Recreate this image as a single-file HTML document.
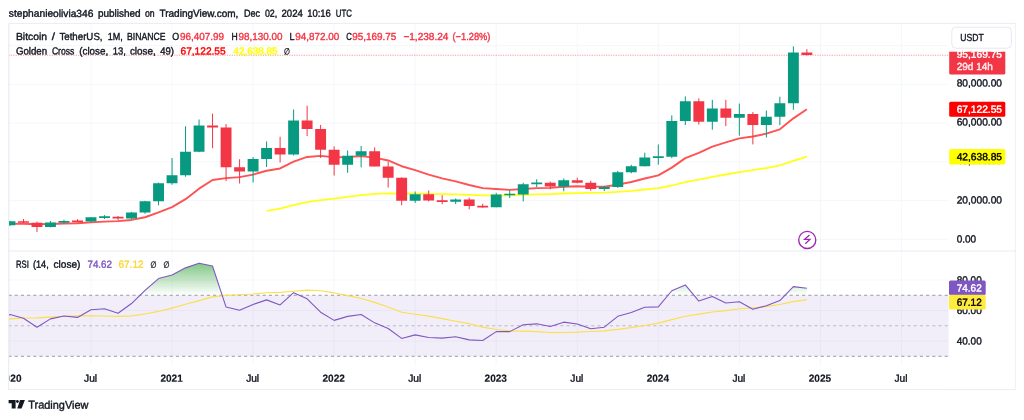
<!DOCTYPE html>
<html lang="en"><head><meta charset="utf-8"><title>BTCUSDT chart</title><style>html,body{margin:0;padding:0;background:#fff}body{width:1024px;height:420px;overflow:hidden}svg{display:block}</style></head><body>
<svg width="1024" height="420" viewBox="0 0 1024 420" font-family="'Liberation Sans', sans-serif" font-size="10.3" color="#131722">
<style>text{fill:currentColor;stroke:currentColor;stroke-width:.4px;stroke-linejoin:round}text[font-weight=bold]{stroke-width:.15px}</style>
<defs><clipPath id="cm"><rect x="9.1" y="23.5" width="939.6999999999999" height="227.57"/></clipPath>
<clipPath id="cr"><rect x="9.1" y="251.07" width="939.6999999999999" height="114.23000000000002"/></clipPath>
<clipPath id="ct"><rect x="9.6" y="365.3" width="940.3" height="24.19999999999999"/></clipPath>
<linearGradient id="gg" gradientUnits="userSpaceOnUse" x1="0" y1="249.47" x2="0" y2="295.25"><stop offset="0" stop-color="#4caf50" stop-opacity="1"/><stop offset="1" stop-color="#4caf50" stop-opacity="0"/></linearGradient>
</defs>
<rect width="1024" height="420" fill="#fff"/>
<text transform="translate(8.8 16.8) rotate(.1) scale(0.9928 1)" >stephanieolivia346</text>
<text transform="translate(97.9 16.8) rotate(.1) scale(0.9684 1)" >published</text>
<text transform="translate(145 16.8) rotate(.1) scale(0.8458 1)" >on</text>
<text transform="translate(159.5 16.8) rotate(.1) scale(0.9719 1)" >TradingView.com,</text>
<text transform="translate(243.9 16.8) rotate(.1) scale(0.8792 1)" >Dec</text>
<text transform="translate(264.9 16.8) rotate(.1) scale(0.8585 1)" >02,</text>
<text transform="translate(281.5 16.8) rotate(.1) scale(0.9380 1)" >2024</text>
<text transform="translate(307.2 16.8) rotate(.1) scale(0.9193 1)" >10:16</text>
<text transform="translate(335.8 16.8) rotate(.1) scale(0.7604 1)" >UTC</text>
<path d="M9.96 23.5V365.3M91 23.5V365.3M172.04 23.5V365.3M253.09 23.5V365.3M334.13 23.5V365.3M415.17 23.5V365.3M496.21 23.5V365.3M577.25 23.5V365.3M658.3 23.5V365.3M739.34 23.5V365.3M820.38 23.5V365.3M901.42 23.5V365.3M8.5 239.3H948.8M8.5 200.56H948.8M8.5 161.82H948.8M8.5 123.08H948.8M8.5 84.34H948.8M8.5 45.6H948.8M8.5 341.03H948.8M8.5 310.51H948.8M8.5 279.99H948.8" stroke="#f0f3fa" stroke-width="1" stroke-opacity="0.7" fill="none"/>
<g clip-path="url(#cm)">
<path d="M266.59 210.98L280.1 208.72L293.61 205.19L307.11 202.15L320.62 200.05L334.13 198.64L347.63 196.92L361.14 195.09L374.65 193.94L388.16 193.29L401.66 193.59L415.17 193.61L428.68 193.89L442.18 194.2L455.69 194.42L469.2 194.88L482.7 195.38L496.21 195.34L509.72 195.31L523.23 194.86L536.73 194.37L550.24 194.06L563.75 193.51L577.25 193.08L590.76 192.92L604.27 192.68L617.77 191.86L631.28 190.84L644.79 189.5L658.3 188.19L671.8 185.5L685.31 182.13L698.82 179.72L712.32 176.87L725.83 174.5L739.34 172.09L752.85 170.2L766.35 168.06L779.86 165.47L793.37 160.95L806.87 156.71" stroke="#ffff00" stroke-opacity="0.9" stroke-width="1.8" fill="none" stroke-linejoin="round"/>
<path d="M-3.55 224.37L9.96 223.91L23.47 223.75L36.97 224.2L50.48 223.97L63.99 223.55L77.5 223.27L91 222.42L104.51 221.61L118.02 221.16L131.52 219.93L145.03 217.25L158.54 212.4L172.04 207.08L185.55 199.19L199.06 188.67L212.56 179.94L226.07 178.11L239.58 177.15L253.09 174.56L266.59 170.77L280.1 168.44L293.61 161.6L307.11 156.94L320.62 155.92L334.13 157.18L347.63 156.97L361.14 156.14L374.65 157.61L388.16 160.48L401.66 166.22L415.17 170.21L428.68 174.54L442.18 178.41L455.69 181.44L469.2 184.96L482.7 188.14L496.21 189.05L509.72 189.83L523.23 189.02L536.73 188.11L550.24 187.9L563.75 186.81L577.25 186.22L590.76 186.62L604.27 186.69L617.77 184.62L631.28 181.99L644.79 178.48L658.3 175.38L671.8 167.6L685.31 158.12L698.82 152.93L712.32 146.58L725.83 142.45L739.34 138.4L752.85 136.5L766.35 133.66L779.86 129.3L793.37 118.34L806.87 109.28" stroke="#ff5252" stroke-width="1.9" fill="none" stroke-linejoin="round"/>
<path d="M8.5 55.21H948.8" stroke="#f23645" stroke-width="1" stroke-dasharray="1.2 1.2" stroke-opacity="0.52" fill="none"/>
<path d="M9.96 220.75V225.99M50.48 220.98V227.39M63.99 219.8V223.58M91 217.13V222.07M104.51 215.15V218.93M131.52 211.99V219.21M145.03 200.83V213.74M158.54 182.55V205.26M172.04 158.04V184.81M185.55 126.27V176.74M199.06 119.51V152.23M253.09 157.08V182.59M266.59 141.48V166.99M293.61 109.52V155.46M347.63 150.49V172.82M361.14 145.96V167.33M415.17 191.52V202.92M455.69 198.46V204.07M496.21 192.89V207.34M509.72 190.39V197.94M523.23 182.77V201.43M536.73 179.25V187.11M563.75 178.42V191.26M604.27 186.06V191.07M617.77 170.96V187.9M631.28 164.82V173.29M644.79 152.72V166.44M658.3 144.45V164.62M671.8 115.33V158.17M685.31 96.39V125.01M712.32 99.88V129.76M739.34 103.56V135.7M766.35 110.49V137.51M779.86 96.7V125.12M793.37 46.4V109.84" stroke="#089981" stroke-width="1" fill="none"/>
<path d="M4.51 221.19H15.41V225.36H4.51ZM45.03 222.6H55.93V226.88H45.03ZM58.54 220.95H69.44V222.65H58.54ZM85.55 217.34H96.45V221.6H85.55ZM99.06 216.19H109.96V217.89H99.06ZM126.07 212.59H136.97V218.43H126.07ZM139.58 201.15H150.48V212.59H139.58ZM153.09 183.28H163.99V201.15H153.09ZM166.59 175.2H177.49V183.28H166.59ZM180.1 151.87H191V175.2H180.1ZM193.61 125.52H204.51V151.87H193.61ZM247.64 158.99H258.54V171.42H247.64ZM261.14 148.07H272.04V158.99H261.14ZM288.16 120.56H299.06V154.41H288.16ZM342.19 155.7H353.08V164.79H342.19ZM355.69 151.15H366.59V155.7H355.69ZM409.72 194.18H420.62V200.67H409.72ZM450.24 199.61H461.14V201.68H450.24ZM490.76 194.51H501.66V207.26H490.76ZM504.27 193.64H515.17V195.34H504.27ZM517.78 184.16H528.68V194.48H517.78ZM531.28 182.57H542.18V184.27H531.28ZM558.3 180.28H569.2V186.59H558.3ZM598.82 187.07H609.72V189.05H598.82ZM612.32 172.2H623.23V187.07H612.32ZM625.83 166.23H636.73V172.2H625.83ZM639.34 157.4H650.24V166.23H639.34ZM652.85 156.26H663.75V157.96H652.85ZM666.35 120.89H677.25V156.82H666.35ZM679.86 101.23H690.76V120.89H679.86ZM706.87 108.48H717.77V121.78H706.87ZM733.89 114.12H744.79V117.71H733.89ZM760.9 116.64H771.8V125.07H760.9ZM774.41 103.14H785.31V116.64H774.41ZM787.92 52.56H798.82V103.14H787.92Z" fill="#089981"/>
<path d="M23.47 218.96V222.94M36.97 221.5V231.97M77.5 219.19V222.21M118.02 215.96V220.27M212.56 113.68V148.26M226.07 124.05V181.19M239.58 159.24V183.5M280.1 136.79V162.59M307.11 105.65V136.14M320.62 124.91V157.95M334.13 146.34V175.54M374.65 147.4V166.5M388.16 161.78V187.58M401.66 177.35V205.17M428.68 190.46V201.45M442.18 195.14V204.19M469.2 197.69V209.32M482.7 203.68V207.81M550.24 181.54V189.3M577.25 177.7V183.4M590.76 180.72V190.55M698.82 98.29V124.65M725.83 99.84V126.18M752.85 112.12V144.39M806.87 49.22V55.53" stroke="#f23645" stroke-width="1" fill="none"/>
<path d="M18.02 221.14H28.92V222.84H18.02ZM31.52 222.79H42.42V226.88H31.52ZM72.05 220.45H82.95V222.15H72.05ZM112.57 216.73H123.47V218.43H112.57ZM207.12 125.52H218.01V127.55H207.12ZM220.62 127.55H231.52V167.14H220.62ZM234.13 167.14H245.03V171.42H234.13ZM274.65 148.07H285.55V154.41H274.65ZM301.66 120.56H312.56V128.99H301.66ZM315.17 128.99H326.07V149.78H315.17ZM328.68 149.78H339.58V164.79H328.68ZM369.2 151.15H380.1V166.41H369.2ZM382.71 166.41H393.61V177.7H382.71ZM396.21 177.7H407.11V200.67H396.21ZM423.23 194.18H434.13V200.46H423.23ZM436.73 200.22H447.63V201.92H436.73ZM463.75 199.61H474.65V206.06H463.75ZM477.25 205.81H488.15V207.51H477.25ZM544.79 182.68H555.69V186.59H544.79ZM571.8 180.28H582.7V182.68H571.8ZM585.31 182.68H596.21V189.05H585.31ZM693.37 101.23H704.27V121.78H693.37ZM720.38 108.48H731.28V117.71H720.38ZM747.39 114.12H758.3V125.07H747.39ZM801.42 52.56H812.32V54.96H801.42Z" fill="#f23645"/>
</g>
<circle cx="807.25" cy="239.9" r="8.55" fill="#fff" stroke="#9c27b0" stroke-width="1.35"/>
<path d="M807.25 239.9l-4.9 4.35h5.4l-4.7 4.35" transform="translate(2.2,-4.85)" stroke="#9c27b0" stroke-width="1.25" fill="none" stroke-linejoin="miter"/>
<g clip-path="url(#cr)">
<rect x="8.5" y="295.25" width="940.3" height="61.04" fill="#7e57c2" fill-opacity="0.1"/>
<path d="M8.5 295.25H948.8" stroke="#787b86" stroke-opacity="0.75" stroke-width="1" stroke-dasharray="3.1 3.1" fill="none"/>
<path d="M8.5 325.77H948.8" stroke="#787b86" stroke-opacity="0.45" stroke-width="1" stroke-dasharray="3.1 3.1" fill="none"/>
<path d="M8.5 356.29H948.8" stroke="#787b86" stroke-opacity="0.75" stroke-width="1" stroke-dasharray="3.1 3.1" fill="none"/>
<path d="M140.08 295.25L145.03 290.43L158.54 278.54L172.04 274.95L185.55 267.86L199.06 263.22L212.56 266.06L222.18 295.25ZM290.75 295.25L293.61 292.65L299.33 295.25ZM668.06 295.25L671.8 290.77L685.31 284.91L693.96 295.25ZM784.99 295.25L793.37 286.61L806.87 288.2L806.87 295.25Z" fill="url(#gg)"/>
<path d="M-3.55 319.79L9.96 318.81L23.47 318.02L36.97 317.81L50.48 317.11L63.99 316.29L77.5 315.91L91 315.78L104.51 316.04L118.02 316.37L131.52 315.85L145.03 313.96L158.54 311.44L172.04 308.15L185.55 304.24L199.06 300.59L212.56 296.86L226.07 295.41L239.58 294.8L253.09 293.97L266.59 292.72L280.1 292.37L293.61 291.22L307.11 290.19L320.62 290.8L334.13 292.94L347.63 295.64L361.14 298.46L374.65 302.39L388.16 307.05L401.66 312.22L415.17 314.21L428.68 316.16L442.18 318.56L455.69 321.2L469.2 323.69L482.7 327.1L496.21 329.45L509.72 330.84L523.23 331.16L536.73 331.69L550.24 332.55L563.75 332.51L577.25 332.18L590.76 331.49L604.27 330.94L617.77 329.43L631.28 327.6L644.79 325.49L658.3 323.14L671.8 319.59L685.31 316.25L698.82 314.07L712.32 312.05L725.83 310.56L739.34 308.79L752.85 307.87L766.35 306.57L779.86 304.55L793.37 301.66L806.87 299.65" stroke="#fbdf4b" stroke-width="1.15" fill="none" stroke-linejoin="round"/>
<path d="M-3.55 322.5L9.96 314.44L23.47 318.27L36.97 327.25L50.48 318.87L63.99 315.98L77.5 317.4L91 309.8L104.51 308.78L118.02 313.28L131.52 303.57L145.03 290.43L158.54 278.54L172.04 274.95L185.55 267.86L199.06 263.22L212.56 266.06L226.07 307.05L239.58 310.26L253.09 304.44L266.59 299.87L280.1 304.92L293.61 292.65L307.11 298.78L320.62 312.16L334.13 320.38L347.63 316.39L361.14 314.42L374.65 322.85L388.16 328.48L401.66 338.41L415.17 334.9L428.68 337.55L442.18 338.08L455.69 336.78L469.2 339.85L482.7 340.43L496.21 331.64L509.72 331.62L523.23 324.79L536.73 323.83L550.24 326.56L563.75 322.15L577.25 323.98L590.76 328.77L604.27 327.18L617.77 316.31L631.28 312.49L644.79 307.25L658.3 306.91L671.8 290.77L685.31 284.91L698.82 301.06L712.32 296.53L725.83 303.02L739.34 301.68L752.85 309.33L766.35 305.77L779.86 300.54L793.37 286.61L806.87 288.2" stroke="#7e57c2" stroke-width="1.1" fill="none" stroke-linejoin="round"/>
</g>
<path d="M8.5 251.07H1015.2" stroke="#e0e3eb" stroke-opacity="0.7" stroke-width="1.1" fill="none"/>
<rect x="8.5" y="23.5" width="1006.7" height="366.0" fill="none" stroke="#e0e3eb" stroke-opacity="0.62" stroke-width="1.15"/>
<text transform="translate(15.9 39.9) rotate(.1) scale(1.0095 1)" >Bitcoin</text>
<text transform="translate(51.7 39.9) rotate(.1) scale(1.1130 1)" >/</text>
<text transform="translate(59.4 39.9) rotate(.1) scale(0.9433 1)" >TetherUS,</text>
<text transform="translate(107.7 39.9) rotate(.1) scale(0.8793 1)" >1M,</text>
<text transform="translate(127.1 39.9) rotate(.1) scale(0.8388 1)" >BINANCE</text>
<text transform="translate(172.3 39.9) rotate(.1) scale(0.8608 1)" >O</text>
<text transform="translate(180 39.9) rotate(.1) scale(0.9604 1)" color="#f23645">96,407.99</text>
<text transform="translate(231.4 39.9) rotate(.1) scale(0.8336 1)" >H</text>
<text transform="translate(238.5 39.9) rotate(.1) scale(0.9604 1)" color="#f23645">98,130.00</text>
<text transform="translate(289.5 39.9) rotate(.1) scale(0.8719 1)" >L</text>
<text transform="translate(295.2 39.9) rotate(.1) scale(0.9604 1)" color="#f23645">94,872.00</text>
<text transform="translate(346.2 39.9) rotate(.1) scale(0.7529 1)" >C</text>
<text transform="translate(352.3 39.9) rotate(.1) scale(0.9604 1)" color="#f23645">95,169.75</text>
<text transform="translate(403.4 39.9) rotate(.1) scale(0.9781 1)" color="#f23645">−1,238.24</text>
<text transform="translate(452.5 39.9) rotate(.1) scale(0.9007 1)" color="#f23645">(−1.28%)</text>
<text transform="translate(15.9 54.4) rotate(.1) scale(0.9392 1)" >Golden</text>
<text transform="translate(51.9 54.4) rotate(.1) scale(0.8367 1)" >Cross</text>
<text transform="translate(79.2 54.4) rotate(.1) scale(0.9562 1)" >(close,</text>
<text transform="translate(112.7 54.4) rotate(.1) scale(0.9213 1)" >13,</text>
<text transform="translate(129.9 54.4) rotate(.1) scale(0.9663 1)" >close,</text>
<text transform="translate(160.2 54.4) rotate(.1) scale(0.9268 1)" >49)</text>
<text transform="translate(180.5 54.4) rotate(.1) scale(0.9866 1)" color="#ff0000">67,122.55</text>
<text transform="translate(233.5 54.4) rotate(.1) scale(0.9604 1)" color="#ffff00">42,638.85</text>
<text transform="translate(284 54.4) rotate(.1) scale(0.7644 1)" font-family="'DejaVu Sans', sans-serif" font-weight="bold" font-size="9">∅</text>
<text transform="translate(16 267.8) rotate(.1) scale(0.7512 1)" >RSI</text>
<text transform="translate(33 267.8) rotate(.1) scale(0.8845 1)" >(14,</text>
<text transform="translate(53.5 267.8) rotate(.1) scale(0.9829 1)" >close)</text>
<text transform="translate(87.5 267.8) rotate(.1) scale(0.9503 1)" color="#7e57c2">74.62</text>
<text transform="translate(118.5 267.8) rotate(.1) scale(0.9697 1)" color="#fdd835">67.12</text>
<text transform="translate(150.5 267.8) rotate(.1) scale(0.7644 1)" font-family="'DejaVu Sans', sans-serif" font-weight="bold" font-size="9">∅</text>
<text transform="translate(163.5 267.8) rotate(.1) scale(0.7644 1)" font-family="'DejaVu Sans', sans-serif" font-weight="bold" font-size="9">∅</text>
<rect x="948.8" y="24.0" width="65.90000000000009" height="365.0" fill="#fff"/>
<path d="M948.8 251.07H1015.2" stroke="#e0e3eb" stroke-opacity="0.7" stroke-width="1.1" fill="none"/>
<text transform="translate(956.7 242.6) rotate(.1) scale(0.9727 1)" >0.00</text>
<text transform="translate(956.7 203.55) rotate(.1) scale(0.9888 1)" >20,000.00</text>
<text transform="translate(956.7 163.9) rotate(.1) scale(0.9888 1)" >40,000.00</text>
<text transform="translate(956.7 125.45) rotate(.1) scale(0.9888 1)" >60,000.00</text>
<text transform="translate(956.7 86.4) rotate(.1) scale(0.9888 1)" >80,000.00</text>
<rect x="949.2" y="46" width="56.1" height="28.5" rx="1.5" fill="#f23645"/>
<text transform="translate(956.7 57.8) rotate(.1) scale(0.9888 1)" color="#fff">95,169.75</text>
<text transform="translate(956.7 70) rotate(.1) scale(0.9749 1)" color="#fff" opacity="0.92">29d 14h</text>
<rect x="949" y="24" width="66" height="27.7" fill="#fff"/>
<rect x="951.8" y="27.2" width="59.6" height="21" rx="4" fill="#fff" stroke="#e0e3eb" stroke-opacity="0.8" stroke-width="1"/>
<text transform="translate(960.3 40.9) rotate(.1) scale(0.8348 1)" >USDT</text>
<rect x="949.2" y="101.7" width="56.1" height="15" rx="1.5" fill="#ff0000"/>
<text transform="translate(956.7 112.7) rotate(.1) scale(0.9888 1)" color="#fff">67,122.55</text>
<rect x="949.2" y="149.1" width="56.1" height="15.3" rx="1.5" fill="#ffff00"/>
<text transform="translate(956.7 160.2) rotate(.1) scale(0.9888 1)" color="#000">42,638.85</text>
<text transform="translate(956.7 344.53) rotate(.1) scale(0.9697 1)" >40.00</text>
<text transform="translate(956.7 314.01) rotate(.1) scale(0.9697 1)" >60.00</text>
<text transform="translate(956.7 283.49) rotate(.1) scale(0.9697 1)" >80.00</text>
<rect x="949" y="280.5" width="36.7" height="14.4" rx="1.5" fill="#7e57c2"/>
<text transform="translate(956.7 291.5) rotate(.1) scale(0.9697 1)" color="#fff">74.62</text>
<rect x="949" y="294.8" width="36.7" height="14.6" rx="1.5" fill="#ffeb3b"/>
<text transform="translate(956.7 305.8) rotate(.1) scale(0.9697 1)" color="#000">67.12</text>
<g clip-path="url(#ct)">
<text transform="translate(-0.89 381.8) rotate(.1) scale(0.9772 1)" font-weight="bold">2020</text>
<text transform="translate(84.05 381.8) rotate(.1) scale(0.9870 1)" >Jul</text>
<text transform="translate(160.39 381.8) rotate(.1) scale(0.9772 1)" font-weight="bold">2021</text>
<text transform="translate(246.14 381.8) rotate(.1) scale(0.9870 1)" >Jul</text>
<text transform="translate(322.48 381.8) rotate(.1) scale(0.9772 1)" font-weight="bold">2022</text>
<text transform="translate(408.22 381.8) rotate(.1) scale(0.9870 1)" >Jul</text>
<text transform="translate(484.56 381.8) rotate(.1) scale(0.9772 1)" font-weight="bold">2023</text>
<text transform="translate(570.3 381.8) rotate(.1) scale(0.9870 1)" >Jul</text>
<text transform="translate(646.65 381.8) rotate(.1) scale(0.9772 1)" font-weight="bold">2024</text>
<text transform="translate(732.39 381.8) rotate(.1) scale(0.9870 1)" >Jul</text>
<text transform="translate(808.73 381.8) rotate(.1) scale(0.9772 1)" font-weight="bold">2025</text>
<text transform="translate(894.47 381.8) rotate(.1) scale(0.9870 1)" >Jul</text>
</g>
<g fill="#131722"><path d="M8.6 400.1h7v8.5h-3.9v-5.4h-3.1z"/><circle cx="17.4" cy="401.5" r="1.4"/><path d="M20.0 400.1h4.9l-3.3 8.5h-4.3z"/></g>
<text transform="translate(28.3 408.6) rotate(.1) scale(0.9760 1)" font-size="11.2">TradingView</text>
</svg>
</body></html>
